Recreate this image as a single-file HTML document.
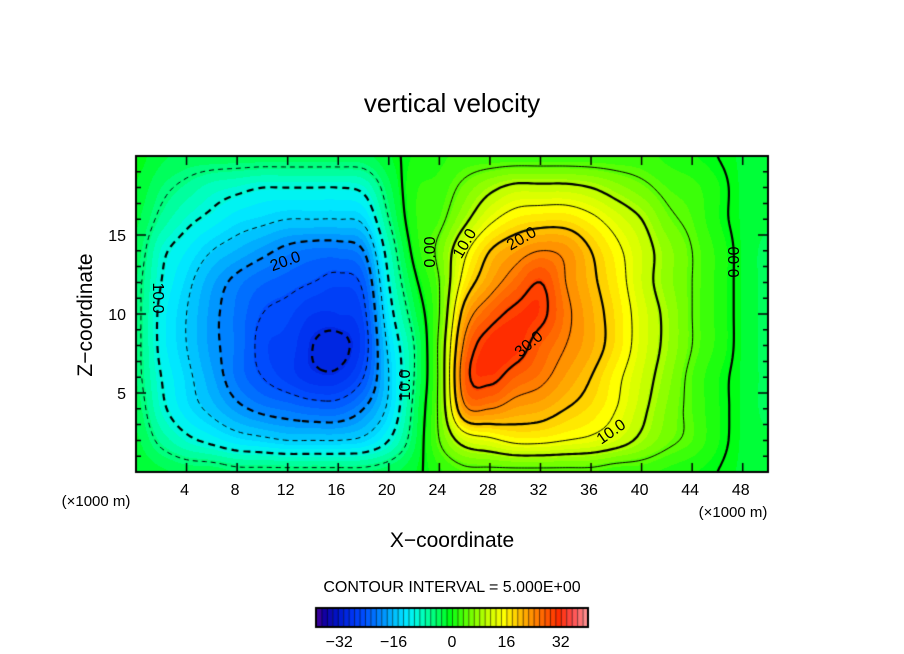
<!DOCTYPE html>
<html><head><meta charset="utf-8">
<style>
html,body{margin:0;padding:0;background:#fff;}
#wrap{position:relative;width:904px;height:654px;overflow:hidden;font-family:"Liberation Sans",sans-serif;}
canvas{position:absolute;left:0;top:0;}
svg{position:absolute;left:0;top:0;}
</style></head>
<body>
<div id="wrap">
<canvas id="cv" width="904" height="654"></canvas>
<svg id="ov" width="904" height="654">
<text x="452" y="112" text-anchor="middle" font-size="26" font-family="Liberation Sans, sans-serif">vertical velocity</text>
<text x="452" y="547" text-anchor="middle" font-size="21" font-family="Liberation Sans, sans-serif">X−coordinate</text>
<text x="0" y="0" transform="translate(92,315) rotate(-90)" text-anchor="middle" font-size="21" font-family="Liberation Sans, sans-serif">Z−coordinate</text>
<text x="96" y="506" text-anchor="middle" font-size="15">(×1000 m)</text>
<text x="733" y="517" text-anchor="middle" font-size="15">(×1000 m)</text>
<text x="452" y="592" text-anchor="middle" font-size="16">CONTOUR INTERVAL = 5.000E+00</text>
<g id="labels" font-size="16" font-family="Liberation Sans, sans-serif" text-anchor="middle">
<text transform="translate(287,266) rotate(-20)">20.0</text>
<text transform="translate(153,298) rotate(90)">10.0</text>
<text transform="translate(410,385) rotate(-90)">10.0</text>
<text transform="translate(435,252) rotate(-90)">0.00</text>
<text transform="translate(469,246) rotate(-60)">10.0</text>
<text transform="translate(524,243) rotate(-30)">20.0</text>
<text transform="translate(532,348) rotate(-40)">30.0</text>
<text transform="translate(614,436) rotate(-35)">10.0</text>
<text transform="translate(739,262) rotate(-90)">0.00</text>
</g>
</svg>
</div>
<script>
// ---- data ----
const xs = [0,2,4,6,8,10,12,14,16,18,20,22,24,26,28,30,32,34,36,38,40,42,44,46,48,50];
const zs = [0,2,4,6,8,10,12,14,16,18,20];
const w_z0  = [-1,-2,-3,-3,-4,-4,-4,-4,-4,-4,-3,-1,2,4,4,4,4,4,4,3,3,2,1,0,-1,-1];
const w_z2  = [-2,-6,-9,-11,-13,-14,-15,-15,-15,-14,-10,-3,5,12,14,16,16,15,14,12,9,6,4,1,-1,-2];
const w_z4  = [-3,-9,-13,-16,-19,-21,-22,-23,-23,-20,-14,-4,6,24,25,23,22,20,18,15,11,7,4,1,-1,-3];
const w_z6  = [-4,-10,-14,-18,-22,-25,-27,-29,-29,-25,-15,-5,6,28,31,28,26,23,20,16,12,8,4,1,-1,-3];
const w_z8  = [-4,-11,-15,-19,-22,-26,-27,-30,-31,-27,-14,-5,6,26,32,32,28,25,22,18,13,9,5,2,-1,-3];
const w_z10 = [-4,-11,-15,-19,-22,-25,-26,-28,-28,-26,-12,-3,5,22,28,31,31,26,22,18,13,9,5,2,-1,-3];
const w_z12 = [-4,-10,-14,-18,-21,-23,-24,-25,-26,-24,-10,-1,5,17,23,27,30,25,21,17,12,8,5,2,-1,-3];
const w_z14 = [-3,-9,-12,-15,-17,-19,-21,-22,-22,-20,-8,1,6,14,20,23,25,24,20,16,12,8,5,2,-1,-3];
const w_z16 = [-2,-6,-9,-11,-13,-14,-15,-15,-15,-14,-5,2,4,9,14,17,18,18,16,13,10,6,4,1,-1,-2];
const w_z18 = [-1,-4,-6,-8,-9,-10,-10,-10,-10,-9,-3,2,3,6,9,11,11,11,10,8,6,4,3,1,-1,-1];
const w_z20 = [0,-2,-3,-3,-3,-3,-3,-3,-3,-3,-1,1,2,3,3,3,3,3,3,3,3,2,1,0,-1,-1];
const wRows = [w_z0,w_z2,w_z4,w_z6,w_z8,w_z10,w_z12,w_z14,w_z16,w_z18,w_z20];
const levels = [-35,-30,-25,-20,-15,-10,-5,0,5,10,15,20,25,30,35];
const xTicks = [4,8,12,16,20,24,28,32,36,40,44,48];
const zTicks = [5,10,15];
const cbTicks = [-32,-16,0,16,32];

// ---- axes ----
const X0=136,X1=768,Y0=156,Y1=472;
const xMin=0,xMax=50,zMin=0,zMax=20;
const sx = x => X0+(x-xMin)/(xMax-xMin)*(X1-X0);
const sz = z => Y1-(z-zMin)/(zMax-zMin)*(Y1-Y0);

function cub(p0,p1,p2,p3,t){
  return p1+0.5*t*(p2-p0+t*(2*p0-5*p1+4*p2-p3+t*(3*(p1-p2)+p3-p0)));
}
function gv(i,j){
  i=Math.max(0,Math.min(xs.length-1,i));j=Math.max(0,Math.min(zs.length-1,j));
  return wRows[j][i];
}
function field(x,z){
  const dx=(xs[xs.length-1]-xs[0])/(xs.length-1), dz=(zs[zs.length-1]-zs[0])/(zs.length-1);
  let gx=(x-xs[0])/dx, gz=(z-zs[0])/dz;
  let i=Math.min(xs.length-2,Math.floor(gx)), j=Math.min(zs.length-2,Math.floor(gz));
  let tx=gx-i, tz=gz-j;
  const r=[];
  for(let k=-1;k<=2;k++) r.push(cub(gv(i-1,j+k),gv(i,j+k),gv(i+1,j+k),gv(i+2,j+k),tx));
  return cub(r[0],r[1],r[2],r[3],tz);
}
const stops=[[-40,[96,0,150]],[-37,[20,0,160]],[-33,[0,20,200]],[-29,[0,50,240]],[-25,[0,80,255]],[-20,[0,140,255]],[-16,[0,195,255]],[-12,[0,240,255]],[-8,[0,255,190]],[-4,[0,255,110]],[0,[0,255,20]],[6,[110,255,0]],[12,[210,255,0]],[16,[255,255,0]],[20,[255,200,0]],[26,[255,120,0]],[32,[255,45,0]],[36,[255,75,75]],[40,[255,140,140]]];
function color(v){
  v=Math.max(-40,Math.min(40,v));
  v=Math.round(v/1.6)*1.6;
  for(let k=0;k<stops.length-1;k++){
    if(v<=stops[k+1][0]){
      const a=stops[k],b=stops[k+1],t=(v-a[0])/(b[0]-a[0]);
      return [0,1,2].map(c=>Math.round(a[1][c]+(b[1][c]-a[1][c])*t));
    }
  }
  return stops[stops.length-1][1];
}
const cv=document.getElementById('cv');
const ctx=cv.getContext('2d');
// heatmap
const W=X1-X0,H=Y1-Y0;
const img=ctx.createImageData(W,H);
for(let py=0;py<H;py++){
  const z=zMax-(py+0.5)/H*(zMax-zMin);
  for(let px=0;px<W;px++){
    const x=xMin+(px+0.5)/W*(xMax-xMin);
    const c=color(field(x,z));
    const o=(py*W+px)*4;
    img.data[o]=c[0];img.data[o+1]=c[1];img.data[o+2]=c[2];img.data[o+3]=255;
  }
}
ctx.putImageData(img,X0,Y0);
// contours
const NX=201,NZ=81;
const G=[];
for(let j=0;j<NZ;j++){G.push([]);for(let i=0;i<NX;i++){G[j].push(field(xMin+i*(xMax-xMin)/(NX-1),zMin+j*(zMax-zMin)/(NZ-1)));}}
function gpt(i,j){return [sx(xMin+i*(xMax-xMin)/(NX-1)),sz(zMin+j*(zMax-zMin)/(NZ-1))];}
levels.forEach(L=>{
  const pts={},adj={};
  function edge(key,a,b,va,vb){
    if(!(key in pts)){const t=(L-va)/(vb-va);pts[key]=[a[0]+(b[0]-a[0])*t,a[1]+(b[1]-a[1])*t];}
    return key;
  }
  function link(a,b){(adj[a]=adj[a]||[]).push(b);(adj[b]=adj[b]||[]).push(a);}
  for(let j=0;j<NZ-1;j++)for(let i=0;i<NX-1;i++){
    const v00=G[j][i],v10=G[j][i+1],v11=G[j+1][i+1],v01=G[j+1][i];
    const p00=gpt(i,j),p10=gpt(i+1,j),p11=gpt(i+1,j+1),p01=gpt(i,j+1);
    const cr=[];
    if((v00>L)!==(v10>L))cr.push(edge('h'+i+'_'+j,p00,p10,v00,v10));
    if((v10>L)!==(v11>L))cr.push(edge('v'+(i+1)+'_'+j,p10,p11,v10,v11));
    if((v01>L)!==(v11>L))cr.push(edge('h'+i+'_'+(j+1),p01,p11,v01,v11));
    if((v00>L)!==(v01>L))cr.push(edge('v'+i+'_'+j,p00,p01,v00,v01));
    if(cr.length===2)link(cr[0],cr[1]);
    else if(cr.length===4){
      const c=(v00+v10+v11+v01)/4;
      if((c>L)===(v00>L)){link(cr[0],cr[1]);link(cr[2],cr[3]);}
      else{link(cr[0],cr[3]);link(cr[1],cr[2]);}
    }
  }
  const vis={};
  const thick=(L%10===0);
  ctx.strokeStyle='#000';
  ctx.lineWidth=thick?2.2:1;
  ctx.setLineDash(L<0?(thick?[7,5]:[5,4]):[]);
  function trace(start){
    const path=[start];vis[start]=1;let cur=start;
    while(true){
      const nb=(adj[cur]||[]).find(k=>!vis[k]);
      if(!nb)break;vis[nb]=1;path.push(nb);cur=nb;
    }
    ctx.beginPath();
    path.forEach((k,n)=>{const p=pts[k];n?ctx.lineTo(p[0],p[1]):ctx.moveTo(p[0],p[1]);});
    if(adj[path[path.length-1]]&&adj[path[path.length-1]].includes(start)&&path.length>2)ctx.closePath();
    ctx.stroke();
  }
  Object.keys(adj).forEach(k=>{if(!vis[k]&&adj[k].length===1)trace(k);});
  Object.keys(adj).forEach(k=>{if(!vis[k])trace(k);});
});
ctx.setLineDash([]);
// frame and ticks
ctx.strokeStyle='#000';ctx.lineWidth=2;
ctx.strokeRect(X0,Y0,W,H);
ctx.lineWidth=1.5;
const svg=document.getElementById('ov');
xTicks.forEach(t=>{
  const x=sx(t);
  ctx.beginPath();ctx.moveTo(x,Y1);ctx.lineTo(x,Y1-9);ctx.moveTo(x,Y0);ctx.lineTo(x,Y0+9);ctx.stroke();
  const tx=document.createElementNS('http://www.w3.org/2000/svg','text');
  tx.setAttribute('x',x-2);tx.setAttribute('y',495);tx.setAttribute('text-anchor','middle');tx.setAttribute('font-size','16');
  tx.textContent=t;
  
  
  svg.appendChild(tx);
});
for(let z=1;z<20;z++){
  const y=sz(z);const len=(z%5===0)?10:5;
  ctx.beginPath();ctx.moveTo(X0,y);ctx.lineTo(X0+len,y);ctx.moveTo(X1,y);ctx.lineTo(X1-len,y);ctx.stroke();
}
zTicks.forEach(t=>{
  const tx=document.createElementNS('http://www.w3.org/2000/svg','text');
  tx.setAttribute('x',126);tx.setAttribute('y',sz(t)+6);tx.setAttribute('text-anchor','end');tx.setAttribute('font-size','16');
  tx.textContent=t;
  
  
  svg.appendChild(tx);
});
// colorbar
const CB0=316,CB1=588,CBY=608,CBH=19;
const cbx=v=>CB0+(v+40)/80*(CB1-CB0);
for(let v=-40;v<40;v+=1.6){
  const c=color(v+0.8);
  ctx.fillStyle='rgb('+c.join(',')+')';
  ctx.fillRect(cbx(v),CBY,cbx(v+1.6)-cbx(v)+0.5,CBH);
  ctx.fillStyle='rgba(0,0,0,0.55)';
  ctx.fillRect(cbx(v),CBY,1,CBH);
}
ctx.lineWidth=2;ctx.strokeStyle='#000';ctx.strokeRect(CB0,CBY,CB1-CB0,CBH);
cbTicks.forEach(t=>{
  const tx=document.createElementNS('http://www.w3.org/2000/svg','text');
  tx.setAttribute('x',cbx(t)+(t<0?-4:0));tx.setAttribute('y',647);tx.setAttribute('text-anchor','middle');tx.setAttribute('font-size','16');
  tx.textContent=(t<0?'−'+(-t):t);
  
  
  svg.appendChild(tx);
});
</script>
</body></html>
